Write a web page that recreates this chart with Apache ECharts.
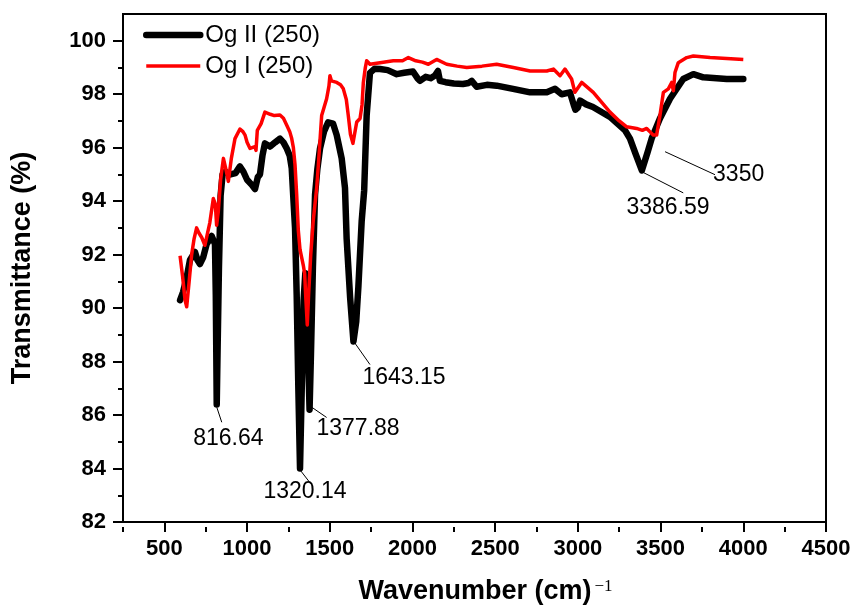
<!DOCTYPE html>
<html>
<head>
<meta charset="utf-8">
<title>FTIR Og I / Og II</title>
<script src="https://cdn.jsdelivr.net/npm/echarts@6.0.0/dist/echarts.min.js"></script>
<style>
  html, body { margin: 0; padding: 0; background: #fff; }
  #chart { width: 854px; height: 610px; }
</style>
</head>
<body>
<div id="chart"></div>
<script>
// [wavenumber (cm-1), transmittance (%)]
const ogII = [
  [595, 90.3], [613, 90.6], [635, 91.15], [655, 91.8], [685, 92.1], [700, 91.8],
  [715, 91.65], [735, 91.9], [756, 92.4], [786, 92.7], [806, 92.4], [811, 90.5],
  [816.64, 86.4], [822, 88.5], [830, 91.5], [840, 94.2], [852, 95.0], [870, 95.1],
  [900, 95.0], [930, 95.05], [957, 95.3], [978, 95.1], [1000, 94.8], [1030, 94.6],
  [1048, 94.45], [1065, 94.9], [1078, 95.0], [1093, 95.7], [1108, 96.16], [1139, 96.04],
  [1170, 96.2], [1199, 96.34], [1220, 96.2], [1240, 95.97], [1258, 95.7], [1270, 95.23],
  [1280, 94.1], [1290, 93.0], [1300, 90.5], [1310, 87.0], [1320.14, 84.0], [1330, 86.8],
  [1342, 90.3], [1352, 91.3], [1362, 90.3], [1371, 87.8], [1377.88, 86.2], [1386, 88.2],
  [1398, 91.5], [1411, 94.24], [1425, 95.2], [1441, 95.97], [1465, 96.6], [1490, 96.95],
  [1501, 97.02], [1520, 96.9], [1542, 96.47], [1572, 95.6], [1592, 94.5], [1602, 92.6],
  [1623, 90.4], [1643.15, 88.75], [1660, 89.5], [1673, 90.8], [1693, 93.26], [1708, 94.4],
  [1723, 97.2], [1743, 98.8], [1770, 98.95], [1804, 98.94], [1850, 98.9], [1905, 98.75],
  [1950, 98.8], [2003, 98.85], [2030, 98.6], [2045, 98.5], [2080, 98.65], [2110, 98.6],
  [2136, 98.7], [2154, 98.87], [2166, 98.5], [2200, 98.45], [2250, 98.4], [2305, 98.38],
  [2340, 98.42], [2358, 98.5], [2388, 98.28], [2450, 98.35], [2509, 98.32], [2608, 98.2],
  [2711, 98.07], [2812, 98.07], [2862, 98.2], [2902, 98.0], [2952, 98.07], [2975, 97.6],
  [2985, 97.42], [3000, 97.5], [3013, 97.76], [3050, 97.62], [3091, 97.52], [3194, 97.15],
  [3285, 96.65], [3315, 96.34], [3350, 95.75], [3386.59, 95.15], [3420, 95.8], [3446, 96.34],
  [3496, 97.09], [3557, 97.83], [3637, 98.57], [3698, 98.75], [3758, 98.63], [3900, 98.57],
  [4000, 98.57]
];

const ogI = [
  [595, 91.96], [610, 91.2], [625, 90.3], [635, 90.05], [650, 91.0], [665, 92.0],
  [680, 92.6], [695, 93.0], [710, 92.8], [726, 92.64], [745, 92.35], [756, 92.4],
  [775, 93.2], [796, 94.1], [808, 93.9], [816, 93.1], [826, 93.6], [840, 94.8],
  [857, 95.6], [872, 95.2], [887, 94.74], [905, 95.6], [927, 96.34], [957, 96.7],
  [975, 96.6], [988, 96.47], [1000, 96.2], [1018, 95.97], [1048, 96.04], [1054, 95.9],
  [1062, 96.65], [1085, 96.9], [1108, 97.33], [1140, 97.25], [1165, 97.2], [1199, 97.22],
  [1220, 97.1], [1240, 96.84], [1258, 96.6], [1270, 96.34], [1280, 96.0], [1290, 95.36],
  [1300, 94.24], [1310, 92.9], [1320, 92.2], [1330, 91.9], [1340, 91.6], [1348, 91.3],
  [1356, 90.3], [1364, 89.37], [1372, 90.5], [1385, 92.0], [1400, 93.26], [1421, 94.5],
  [1431, 95.36], [1451, 97.2], [1481, 97.83], [1495, 98.3], [1501, 98.69], [1510, 98.5],
  [1542, 98.44], [1565, 98.35], [1582, 98.2], [1600, 97.8], [1612, 97.2], [1625, 96.5],
  [1640, 96.16], [1663, 96.96], [1683, 97.09], [1695, 97.6], [1703, 98.44], [1715, 99.0],
  [1723, 99.25], [1743, 99.12], [1804, 99.18], [1884, 99.25], [1940, 99.25], [1975, 99.37],
  [2020, 99.25], [2060, 99.2], [2096, 99.12], [2146, 99.3], [2207, 99.12], [2270, 99.05],
  [2328, 99.0], [2420, 99.05], [2509, 99.12], [2610, 99.0], [2711, 98.87], [2812, 98.87],
  [2852, 98.94], [2892, 98.69], [2922, 98.94], [2962, 98.57], [2982, 98.07], [3023, 98.44],
  [3093, 98.07], [3194, 97.33], [3250, 97.0], [3295, 96.78], [3355, 96.72], [3390, 96.65],
  [3416, 96.72], [3456, 96.47], [3476, 96.47], [3496, 97.2], [3517, 98.07], [3547, 98.2],
  [3567, 98.44], [3577, 98.13], [3587, 98.81], [3607, 99.18], [3658, 99.37], [3698, 99.43],
  [3799, 99.37], [4000, 99.3]
];

const seriesNames = ['Og II (250)', 'Og I (250)'];

const xMajorTicks = [500, 1000, 1500, 2000, 2500, 3000, 3500, 4000, 4500];
const xMinorTicks = [250, 750, 1250, 1750, 2250, 2750, 3250, 3750, 4250];
const yMajorTicks = [82, 84, 86, 88, 90, 92, 94, 96, 98, 100];
const yMinorTicks = [83, 85, 87, 89, 91, 93, 95, 97, 99];

// peak labels: leader line start, leader line end, label centre (data coords)
const peakNames = ['816.64', '1320.14', '1377.88', '1643.15', '3386.59', '3350'];
const leaderFrom = [[816.64, 86.3], [1320.14, 83.95], [1380, 86.34], [1652, 88.69], [3386.59, 95.1], [3527, 95.85]];
const leaderTo = [[847, 85.73], [1384, 83.44], [1481, 85.91], [1743, 87.89], [3637, 94.31], [3829, 94.99]];
const labelAt = [[887, 85.12], [1350, 83.13], [1671, 85.48], [1949, 87.39], [3545, 93.75], [3972, 94.98]];

const FONT = '"Liberation Sans", Arial, sans-serif';
const chart = echarts.init(document.getElementById('chart'));

const tickLine = { color: '#000', width: 2 };

chart.setOption({
  animation: false,
  backgroundColor: '#fff',
  grid: {
    left: 123, right: 28, top: 14, bottom: 83,
    show: true, borderColor: '#000', borderWidth: 2
  },
  legend: {
    orient: 'vertical',
    left: 143,
    top: 20,
    padding: 0,
    itemWidth: 54,
    itemHeight: 14,
    itemGap: 1,
    itemStyle: { opacity: 0 },
    textStyle: { fontFamily: FONT, fontSize: 24, color: '#000', lineHeight: 30 },
    data: [
      { name: seriesNames[0], lineStyle: { width: 6.5 }, itemStyle: { opacity: 0 } },
      { name: seriesNames[1], lineStyle: { width: 3.5 }, itemStyle: { opacity: 0 } }
    ]
  },
  xAxis: [
    {
      type: 'value', min: 250, max: 4500, position: 'bottom',
      axisLine: { onZero: false, lineStyle: tickLine },
      axisTick: { customValues: xMajorTicks, length: 10, lineStyle: tickLine },
      axisLabel: {
        customValues: xMajorTicks, margin: 16, formatter: v => String(v),
        fontFamily: FONT, fontSize: 22, fontWeight: 'bold', color: '#000'
      },
      splitLine: { show: false },
      name: '{t|Wavenumber (cm)}{s|\u22121}',
      nameLocation: 'middle',
      nameGap: 56,
      nameTextStyle: {
        padding: [0, 0, 0, 22],
        rich: {
          t: { fontFamily: FONT, fontSize: 27, fontWeight: 'bold', color: '#000' },
          s: { fontFamily: '"Liberation Serif", "Times New Roman", serif', fontSize: 17, color: '#000', verticalAlign: 'top', padding: [0, 0, 0, 3] }
        }
      }
    },
    {
      // short ticks, laid onto the bottom edge
      type: 'value', min: 250, max: 4500, position: 'top', offset: -513,
      axisLine: { show: false, onZero: false },
      axisTick: { customValues: xMinorTicks, inside: true, length: 5, lineStyle: tickLine },
      axisLabel: { show: false },
      splitLine: { show: false }
    }
  ],
  yAxis: [
    {
      type: 'value', min: 82, max: 101, position: 'left',
      axisLine: { show: true, onZero: false, lineStyle: tickLine },
      axisTick: { customValues: yMajorTicks, length: 10, lineStyle: tickLine },
      axisLabel: { customValues: yMajorTicks, margin: 17, fontFamily: FONT, fontSize: 22, fontWeight: 'bold', color: '#000' },
      splitLine: { show: false },
      name: 'Transmittance (%)',
      nameLocation: 'middle',
      nameGap: 87,
      nameTextStyle: { fontFamily: FONT, fontSize: 27, fontWeight: 'bold', color: '#000' }
    },
    {
      type: 'value', min: 82, max: 101, position: 'right', offset: -703,
      axisLine: { show: false, onZero: false },
      axisTick: { customValues: yMinorTicks, inside: true, length: 5, lineStyle: tickLine },
      axisLabel: { show: false },
      splitLine: { show: false }
    }
  ],
  series: [
    {
      name: seriesNames[0],
      type: 'line',
      data: ogII,
      symbol: 'none',
      lineStyle: { color: '#000', width: 6.5, join: 'round', cap: 'round' },
      itemStyle: { color: '#000' },
      z: 2
    },
    {
      name: seriesNames[1],
      type: 'line',
      data: ogI,
      symbol: 'none',
      lineStyle: { color: '#ff0000', width: 3.5, join: 'round' },
      itemStyle: { color: '#ff0000' },
      z: 3
    },
    {
      type: 'lines',
      coordinateSystem: 'cartesian2d',
      silent: true,
      data: leaderFrom.map((p, i) => ({ coords: [p, leaderTo[i]] })),
      lineStyle: { color: '#000', width: 1, opacity: 1 },
      z: 4
    },
    {
      type: 'scatter',
      silent: true,
      symbolSize: 0,
      itemStyle: { color: '#000', opacity: 1 },
      data: labelAt.map((p, i) => ({ value: p, name: peakNames[i] })),
      label: {
        show: true, position: 'inside', formatter: '{b}',
        fontFamily: FONT, fontSize: 23, color: '#000', opacity: 1,
        textBorderWidth: 0
      },
      z: 5
    }
  ]
});
</script>
</body>
</html>
